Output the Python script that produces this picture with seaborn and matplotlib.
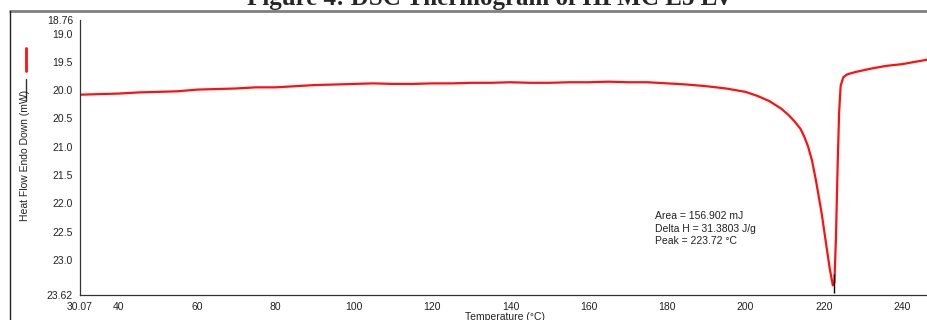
import numpy as np
import pandas as pd
import seaborn as sns
import matplotlib.pyplot as plt
from matplotlib.lines import Line2D

# DSC trace
temperature = [30.07, 35, 40, 45, 50, 55, 60, 65, 70, 75, 80, 85, 90, 95, 100,
               105, 110, 115, 120, 125, 130, 135, 140, 145, 150, 155, 160, 165,
               170, 175, 180, 185, 190, 195, 200, 203, 206, 209, 211, 212.5,
               214, 215, 216, 217, 218, 219.5, 220.5, 221.5, 222.3, 222.7,
               223.1, 223.5, 223.9, 224.3, 225, 226, 228, 232, 236, 240, 246.5]
heat_flow = [20.08, 20.07, 20.06, 20.04, 20.03, 20.02, 19.99, 19.98, 19.97,
             19.95, 19.95, 19.93, 19.91, 19.90, 19.89, 19.88, 19.89, 19.89,
             19.88, 19.88, 19.87, 19.87, 19.86, 19.87, 19.87, 19.86, 19.86,
             19.85, 19.86, 19.86, 19.88, 19.90, 19.93, 19.97, 20.03, 20.10,
             20.19, 20.32, 20.44, 20.55, 20.68, 20.82, 21.00, 21.25, 21.60,
             22.20, 22.68, 23.15, 23.45, 23.40, 22.60, 21.40, 20.40, 19.92,
             19.77, 19.72, 19.68, 19.62, 19.57, 19.54, 19.46]

x_ticks = [30.07, 40, 60, 80, 100, 120, 140, 160, 180, 200, 220, 240]
y_ticks = [18.76, 19.0, 19.5, 20.0, 20.5, 21.0, 21.5, 22.0, 22.5, 23.0, 23.62]
peak_temp = 222.5
notes = ["Area = 156.902 mJ", "Delta H = 31.3803 J/g", "Peak = 223.72 \u00b0C"]

df = pd.DataFrame({"temp": temperature, "flow": heat_flow})

sns.set_style("white")
plt.rcParams["font.family"] = ["Liberation Sans", "DejaVu Sans"]

fig = plt.figure(figsize=(9.28, 3.2), dpi=100)
ax = fig.add_axes([80 / 928, 25 / 320, 1 - 80 / 928, 275 / 320])

sns.lineplot(data=df, x="temp", y="flow", ax=ax, color="#ff1010",
             linewidth=1.6, sort=False)
ax.vlines(peak_temp, 23.25, 23.58, color="black", linewidth=1.0)

ax.set_xlim(30.07, 246.6)
ax.set_ylim(23.62, 18.76)
ax.set_xticks(x_ticks)
ax.set_xticklabels(["30.07"] + [str(int(t)) for t in x_ticks[1:]])
ax.set_yticks(y_ticks)
ax.set_yticklabels(["18.76", "19.0", "19.5", "20.0", "20.5", "21.0", "21.5",
                    "22.0", "22.5", "23.0", "23.62"])
ax.tick_params(axis="both", labelsize=7.5, length=3, width=0.8,
               color="#333333", labelcolor="#222222", pad=2)
ax.set_xlabel("")
ax.set_ylabel("")
for side in ["top", "right"]:
    ax.spines[side].set_visible(False)
for side in ["left", "bottom"]:
    ax.spines[side].set_color("#333333")
    ax.spines[side].set_linewidth(0.9)

for i, line in enumerate(notes):
    ax.text(177.0, 22.23 + i * 0.215, line, fontsize=7.5, color="#222222",
            va="center", ha="left")

# axis titles
fig.text(505 / 928, 1 - 317 / 320, "Temperature (\u00b0C)", fontsize=7.5,
         ha="center", va="center", color="#222222")
fig.text(25 / 928, 1 - 155 / 320, "Heat Flow Endo Down (mW)", fontsize=7.5,
         rotation=90, ha="center", va="center", color="#222222")

# little trace markers at the left margin
fig.add_artist(Line2D([26 / 928, 26 / 928], [1 - 48 / 320, 1 - 71 / 320],
                      color="#ff1010", linewidth=2))
fig.add_artist(Line2D([26 / 928, 26 / 928], [1 - 79 / 320, 1 - 100 / 320],
                      color="#333333", linewidth=1))

# frame from the page and the clipped caption above it
fig.add_artist(Line2D([10 / 928, 1.0], [1 - 11 / 320, 1 - 11 / 320],
                      color="#808080", linewidth=2))
fig.add_artist(Line2D([10 / 928, 10 / 928], [0, 1 - 11 / 320],
                      color="#222222", linewidth=1))
fig.text(490 / 928, 1 - 5 / 320, "Figure 4: DSC Thermogram of HPMC E5 LV",
         fontsize=18, fontweight="bold", ha="center", va="baseline",
         family=["Liberation Serif", "DejaVu Serif"])

fig.savefig("out.png", dpi=100)
